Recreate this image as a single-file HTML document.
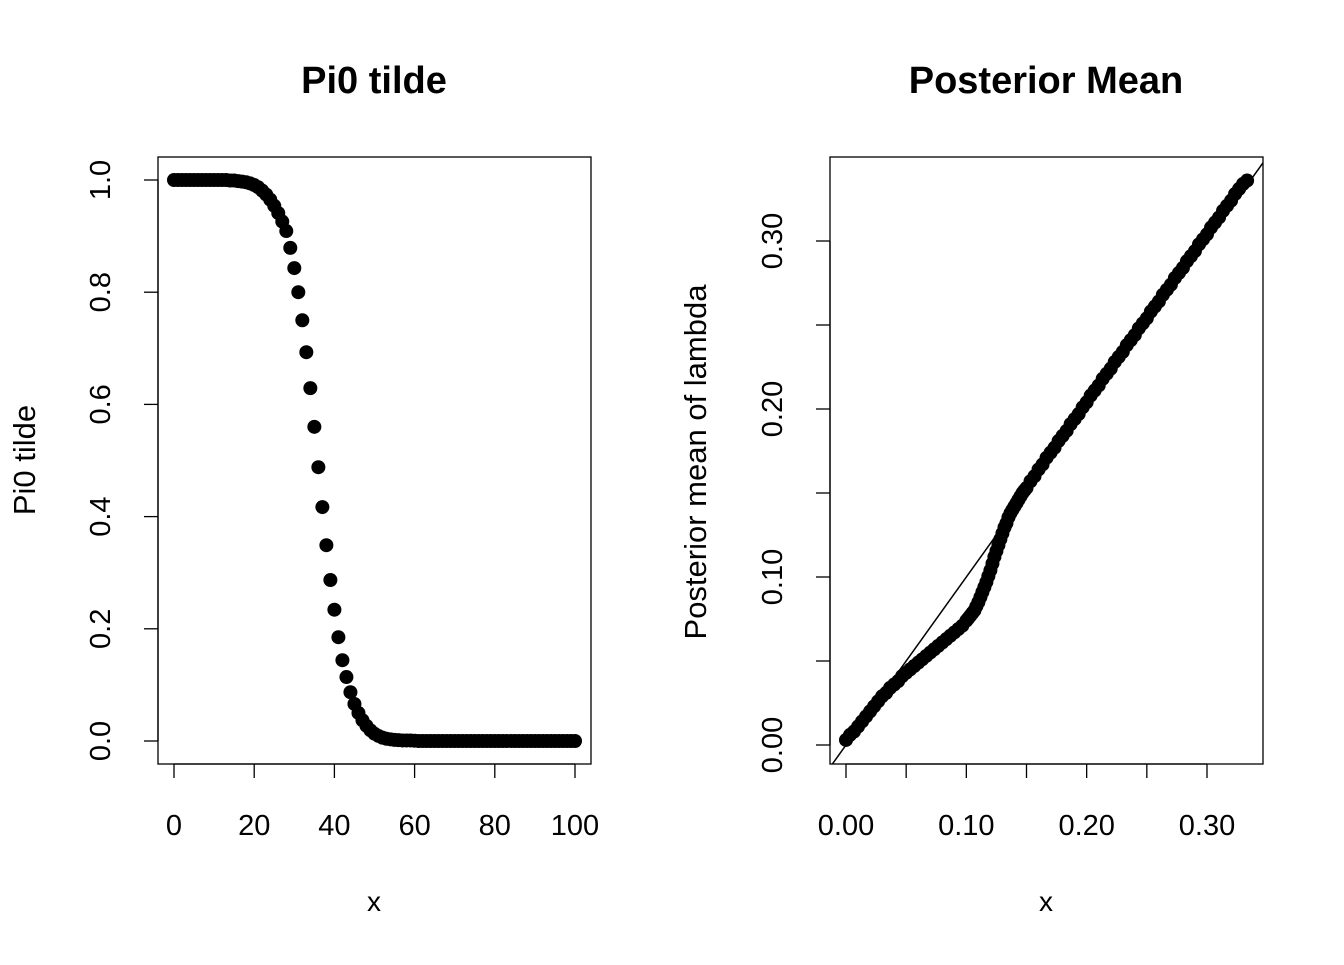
<!DOCTYPE html>
<html><head><meta charset="utf-8"><style>
html,body{margin:0;padding:0;background:#fff}
svg text{font-family:"Liberation Sans",Arial,sans-serif;fill:#000}
</style></head><body>
<svg id="c" width="1344" height="960" xmlns="http://www.w3.org/2000/svg"></svg>
<script>
const leftX = Array.from({length:101},(_, i)=>i);
const leftY = [1,1,1,1,1,1,1,1,1,1,1,1,1,1,0.999,0.999,0.998,0.997,0.996,0.994,0.991,0.987,0.981,0.974,0.965,0.954,0.941,0.926,0.909,0.879,0.843,0.800,0.750,0.693,0.629,0.560,0.488,0.417,0.349,0.287,0.234,0.185,0.144,0.114,0.087,0.066,0.050,0.037,0.027,0.019,0.013,0.009,0.006,0.004,0.003,0.002,0.0015,0.001,0.001,0.001,0.0005,0,0,0,0,0,0,0,0,0,0,0,0,0,0,0,0,0,0,0,0,0,0,0,0,0,0,0,0,0,0,0,0,0,0,0,0,0,0,0,0];
const leftXTicks = [0,20,40,60,80,100];
const leftYTicks = ["0.0","0.2","0.4","0.6","0.8","1.0"];
const rightX = Array.from({length:101},(_, i)=>i/300);
const rightY = [0.003,0.006,0.008,0.011,0.014,0.017,0.020,0.023,0.026,0.029,0.031,0.034,0.036,0.038,0.041,0.043,0.045,0.047,0.049,0.051,0.053,0.055,0.057,0.059,0.061,0.063,0.065,0.067,0.069,0.071,0.074,0.077,0.080,0.085,0.091,0.097,0.104,0.112,0.119,0.126,0.132,0.138,0.142,0.146,0.150,0.153,0.157,0.160,0.164,0.167,0.171,0.174,0.177,0.181,0.184,0.187,0.191,0.194,0.197,0.201,0.204,0.208,0.211,0.214,0.218,0.221,0.224,0.228,0.231,0.234,0.238,0.241,0.244,0.248,0.251,0.254,0.258,0.261,0.264,0.268,0.271,0.274,0.278,0.281,0.284,0.288,0.291,0.294,0.298,0.301,0.304,0.308,0.311,0.314,0.318,0.321,0.324,0.328,0.331,0.334,0.336];
const rightXExtra = [0.1017,0.105,0.1083,0.1117,0.115,0.1183,0.1217,0.125,0.1283,0.1317,0.135,0.1383,0.1417,0.145,0.1483];
const rightYExtra = [0.0755,0.0785,0.0825,0.088,0.094,0.1005,0.108,0.1155,0.1225,0.1295,0.1355,0.140,0.144,0.148,0.1515];
const rightXTicks = ["0.00","0.10","0.20","0.30"];
const rightYTicks = ["0.00","0.10","0.20","0.30"];

const svg = document.getElementById('c');
const NS = 'http://www.w3.org/2000/svg';
function mk(tag, attrs, parent){const e=document.createElementNS(NS,tag);for(const k in attrs)e.setAttribute(k,attrs[k]);(parent||svg).appendChild(e);return e;}
function txt(s,x,y,size,opts){const t=mk('text',Object.assign({x:x,y:y,'font-size':size,'text-anchor':'middle'},opts||{}));t.textContent=s;return t;}

// LEFT PANEL
const lx = v => 174 + (v-0)*(575-174)/100;
const ly = v => 741 - v*561;
let g = mk('g',{});


let r = mk('rect',{x:158,y:157,width:433,height:607,fill:'none',stroke:'#000','stroke-width':1.3},g);


let t = txt('Pi0 tilde',374,93,38,{'font-weight':'bold'});


t = txt('x',374,911,28);


t = txt('Pi0 tilde',0,0,31,{transform:'translate(35,460) rotate(-90)'});


mk('line',{x1:lx(0),x2:lx(100),y1:764,y2:764,stroke:'#000','stroke-width':1.3},g);
leftXTicks.forEach(v=>{
  mk('line',{x1:lx(v),x2:lx(v),y1:764,y2:778,stroke:'#000','stroke-width':1.3},g);
  const l=txt(String(v),lx(v),835,29);
  
  
});
mk('line',{x1:158,x2:158,y1:ly(0),y2:ly(1),stroke:'#000','stroke-width':1.3},g);
leftYTicks.forEach(s=>{
  const v=parseFloat(s);
  mk('line',{x1:144,x2:158,y1:ly(v),y2:ly(v),stroke:'#000','stroke-width':1.3},g);
  const l=txt(s,0,0,29,{transform:`translate(110,${ly(v)}) rotate(-90)`});
  
  
});
leftX.forEach((x,i)=>{
  const c=mk('circle',{cx:lx(x),cy:ly(leftY[i]),r:7,fill:'#000'},g);
  
  
});

// RIGHT PANEL
const rx = v => 846 + v*(1207-846)/0.3;
const ry = v => 745 - v*(745-241)/0.3;
g = mk('g',{});


const defs = mk('defs',{});
const cp = mk('clipPath',{id:'rclip'},defs);
mk('rect',{x:830,y:157,width:433,height:607},cp);
r = mk('rect',{x:830,y:157,width:433,height:607,fill:'none',stroke:'#000','stroke-width':1.3},g);


t = txt('Posterior Mean',1046,93,38,{'font-weight':'bold'});


t = txt('x',1046,911,28);


t = txt('Posterior mean of lambda',0,0,31,{transform:'translate(706,462) rotate(-90)'});


mk('line',{x1:rx(0),x2:rx(0.3),y1:764,y2:764,stroke:'#000','stroke-width':1.3},g);
for(let k=0;k<=6;k++){const v=k*0.05;mk('line',{x1:rx(v),x2:rx(v),y1:764,y2:778,stroke:'#000','stroke-width':1.3},g);}
rightXTicks.forEach(s=>{
  const l=txt(s,rx(parseFloat(s)),835,29);
  
  
});
mk('line',{x1:830,x2:830,y1:ry(0),y2:ry(0.3),stroke:'#000','stroke-width':1.3},g);
for(let k=0;k<=6;k++){const v=k*0.05;mk('line',{x1:816,x2:830,y1:ry(v),y2:ry(v),stroke:'#000','stroke-width':1.3},g);}
rightYTicks.forEach(s=>{
  const v=parseFloat(s);
  const l=txt(s,0,0,29,{transform:`translate(782,${ry(v)}) rotate(-90)`});
  
  
});
const dl = mk('line',{x1:rx(-0.05),y1:ry(-0.05),x2:rx(0.4),y2:ry(0.4),stroke:'#000','stroke-width':1.5,'clip-path':'url(#rclip)'},g);


rightX.forEach((x,i)=>{
  const c=mk('circle',{cx:rx(x),cy:ry(rightY[i]),r:7,fill:'#000'},g);
  
  
});
rightXExtra.forEach((x,i)=>{
  const c=mk('circle',{cx:rx(x),cy:ry(rightYExtra[i]),r:7,fill:'#000'},g);
  
  
});
</script>
</body></html>
